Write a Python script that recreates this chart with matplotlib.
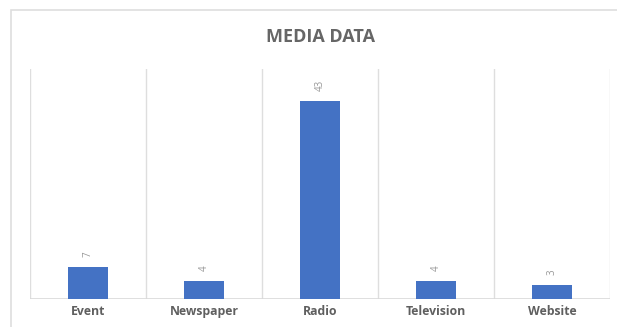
import matplotlib
matplotlib.use("Agg")
from matplotlib import pyplot as plt
from matplotlib.patches import Rectangle

# data
categories = ["Event", "Newspaper", "Radio", "Television", "Website"]
counts = [7, 4, 43, 4, 3]

plt.rcParams['font.family'] = ['Open Sans', 'DejaVu Sans']

fig = plt.figure(figsize=(6.17, 3.27), dpi=100)
ax = fig.add_axes([30 / 617, 28 / 327, 580 / 617, 230 / 327])

# outer chart border (cut off at right and bottom like the screenshot)
fig.patches.append(Rectangle((11 / 617, -0.1), 1.0, 1.0 - 10 / 327 + 0.1,
                             transform=fig.transFigure, fill=False,
                             edgecolor='#dedede', linewidth=1.2))

x = list(range(len(categories)))
bars = ax.bar(x, counts, width=0.345, color='#4472C4', zorder=3)

for xi, v in zip(x, counts):
    ax.annotate(str(v), (xi, v), xytext=(0, 7), textcoords='offset points',
                rotation=90, ha='center', va='bottom', fontsize=7, color='#999999')

ax.set_xlim(-0.5, len(categories) - 0.5)
ax.set_ylim(0, 50)

# vertical separators between categories
for b in [i - 0.5 for i in range(len(categories) + 1)]:
    ax.axvline(b, color='#dedede', linewidth=1, zorder=1)
ax.axhline(0, color='#d9d9d9', linewidth=1.2, zorder=2)

for s in ax.spines.values():
    s.set_visible(False)
ax.set_yticks([])
ax.set_xticks(x)
ax.set_xticklabels(categories, fontsize=8.8, fontweight='bold', color='#5f5f5f')
ax.tick_params(axis='x', length=0, pad=4)

fig.text(321 / 617, 1 - 37 / 327, "MEDIA DATA", ha='center', va='center',
         fontsize=13, fontweight='bold', color='#666666')

fig.savefig('out.png', dpi=100)
